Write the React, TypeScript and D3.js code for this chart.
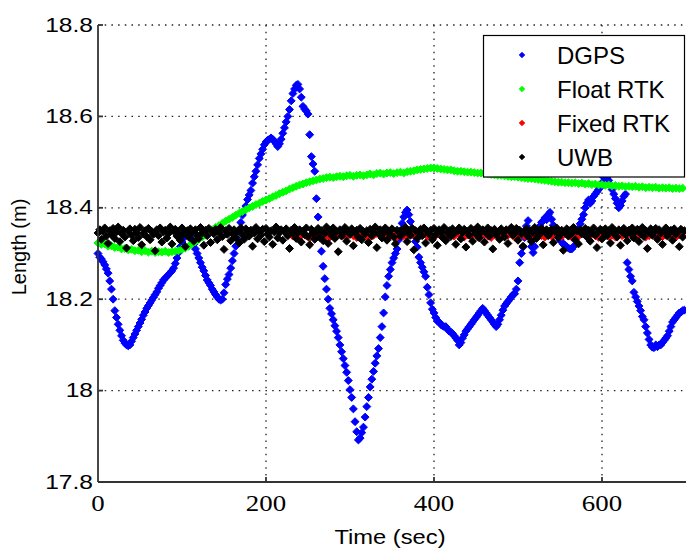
import React from "react";
import * as d3 from "d3";

// ---- data ----
const xTicks = [0, 200, 400, 600];
const yTicks = [17.8, 18, 18.2, 18.4, 18.6, 18.8];
const yTickLabels = ["17.8", "18", "18.2", "18.4", "18.6", "18.8"];
const seriesNames = ["DGPS", "Float RTK", "Fixed RTK", "UWB"];
const seriesColors = ["#0000ff", "#00ff00", "#ff0000", "#000000"];

// DGPS, one value every 2 s from t = 0
const dgpsValues = [
  18.300, 18.292, 18.288, 18.282, 18.275, 18.266, 18.257, 18.240, 18.222, 18.200,
  18.175, 18.160, 18.145, 18.132, 18.120, 18.110, 18.104, 18.100, 18.098, 18.100,
  18.108, 18.116, 18.124, 18.132, 18.140, 18.148, 18.156, 18.165, 18.172, 18.180,
  18.186, 18.192, 18.198, 18.204, 18.210, 18.216, 18.224, 18.230, 18.236, 18.242,
  18.246, 18.250, 18.254, 18.258, 18.262, 18.268, 18.278, 18.290, 18.302, 18.315,
  18.325, 18.334, 18.340, 18.345, 18.342, 18.336, 18.330, 18.320, 18.310, 18.300,
  18.290, 18.280, 18.270, 18.262, 18.252, 18.242, 18.236, 18.230, 18.222, 18.216,
  18.210, 18.205, 18.200, 18.198, 18.200, 18.214, 18.232, 18.244, 18.254, 18.268,
  18.284, 18.300, 18.316, 18.332, 18.350, 18.368, 18.384, 18.394, 18.404, 18.418,
  18.428, 18.438, 18.454, 18.468, 18.480, 18.494, 18.508, 18.518, 18.528, 18.538,
  18.544, 18.548, 18.550, 18.553, 18.550, 18.545, 18.540, 18.534, 18.540, 18.550,
  18.563, 18.575, 18.588, 18.600, 18.615, 18.634, 18.650, 18.660, 18.668, 18.670,
  18.660, 18.642, 18.622, 18.616, 18.612, 18.605, 18.560, 18.512, 18.496, 18.480,
  18.420, 18.380, 18.342, 18.305, 18.272, 18.245, 18.222, 18.200, 18.180, 18.168,
  18.155, 18.142, 18.130, 18.116, 18.100, 18.085, 18.070, 18.055, 18.040, 18.022,
  18.002, 17.985, 17.960, 17.932, 17.910, 17.892, 17.896, 17.908, 17.920, 17.942,
  17.965, 17.985, 18.008, 18.025, 18.042, 18.060, 18.076, 18.092, 18.116, 18.140,
  18.170, 18.205, 18.230, 18.250, 18.265, 18.280, 18.290, 18.300, 18.310, 18.330,
  18.350, 18.366, 18.380, 18.390, 18.395, 18.385, 18.370, 18.355, 18.340, 18.326,
  18.314, 18.292, 18.280, 18.270, 18.260, 18.250, 18.226, 18.210, 18.192, 18.178,
  18.170, 18.160, 18.152, 18.150, 18.145, 18.142, 18.140, 18.140, 18.135, 18.130,
  18.128, 18.125, 18.120, 18.115, 18.110, 18.100, 18.105, 18.115, 18.122, 18.130,
  18.135, 18.140, 18.145, 18.150, 18.155, 18.160, 18.165, 18.170, 18.175, 18.180,
  18.175, 18.170, 18.165, 18.160, 18.155, 18.150, 18.145, 18.140, 18.145, 18.155,
  18.165, 18.176, 18.185, 18.190, 18.195, 18.200, 18.205, 18.210, 18.212, 18.222,
  18.240, 18.280, 18.300, 18.314, 18.335, 18.360, 18.372, 18.340, 18.315, 18.302,
  18.315, 18.335, 18.350, 18.360, 18.368, 18.372, 18.378, 18.374, 18.385, 18.390,
  18.375, 18.362, 18.350, 18.340, 18.335, 18.330, 18.325, 18.320, 18.318, 18.315,
  18.312, 18.310, 18.310, 18.315, 18.330, 18.345, 18.355, 18.365, 18.375, 18.385,
  18.400, 18.410, 18.417, 18.410, 18.415, 18.425, 18.430, 18.435, 18.440, 18.445,
  18.455, 18.467, 18.470, 18.465, 18.460, 18.450, 18.440, 18.430, 18.420, 18.410,
  18.400, 18.405, 18.415, 18.425, 18.430, 18.280, 18.265, 18.250, 18.240, 18.215,
  18.205, 18.195, 18.185, 18.175, 18.162, 18.155, 18.140, 18.126, 18.112, 18.100,
  18.095, 18.094, 18.100, 18.096, 18.100, 18.100, 18.105, 18.110, 18.115, 18.120,
  18.130, 18.140, 18.150, 18.155, 18.160, 18.165, 18.170, 18.172, 18.175, 18.176,
];

// Float RTK, one value every 4 s from t = 0
const floatValues = [
  18.323, 18.320, 18.321, 18.316, 18.317, 18.313, 18.314, 18.310, 18.311, 18.308,
  18.309, 18.306, 18.307, 18.304, 18.306, 18.303, 18.305, 18.302, 18.304, 18.303,
  18.305, 18.302, 18.304, 18.305, 18.306, 18.309, 18.312, 18.316, 18.321, 18.326,
  18.331, 18.336, 18.341, 18.347, 18.352, 18.357, 18.361, 18.366, 18.371, 18.375,
  18.379, 18.384, 18.388, 18.392, 18.396, 18.400, 18.403, 18.407, 18.410, 18.414,
  18.417, 18.420, 18.424, 18.427, 18.431, 18.434, 18.437, 18.441, 18.444, 18.447,
  18.450, 18.452, 18.455, 18.457, 18.459, 18.461, 18.463, 18.464, 18.466, 18.467,
  18.466, 18.468, 18.469, 18.468, 18.470, 18.471, 18.469, 18.471, 18.472, 18.470,
  18.472, 18.474, 18.472, 18.475, 18.476, 18.474, 18.476, 18.477, 18.475, 18.477,
  18.478, 18.476, 18.479, 18.480, 18.481, 18.483, 18.484, 18.485, 18.486, 18.487,
  18.487, 18.486, 18.485, 18.484, 18.483, 18.483, 18.481, 18.480, 18.480, 18.479,
  18.478, 18.478, 18.477, 18.476, 18.476, 18.475, 18.474, 18.473, 18.472, 18.471,
  18.471, 18.470, 18.469, 18.468, 18.468, 18.467, 18.466, 18.465, 18.464, 18.464,
  18.463, 18.462, 18.461, 18.460, 18.459, 18.458, 18.457, 18.456, 18.456, 18.455,
  18.455, 18.454, 18.455, 18.453, 18.454, 18.452, 18.453, 18.451, 18.452, 18.450,
  18.451, 18.449, 18.450, 18.448, 18.449, 18.447, 18.448, 18.446, 18.447, 18.446,
  18.447, 18.445, 18.446, 18.444, 18.445, 18.444, 18.445, 18.443, 18.444, 18.443,
  18.444, 18.442, 18.443, 18.442, 18.443,
];

// Fixed RTK, one value every 4 s from t = 232
const fixedValues = [
  18.338, 18.341, 18.336, 18.343, 18.339, 18.335, 18.342, 18.340, 18.337, 18.344,
  18.339, 18.336, 18.341, 18.338, 18.345, 18.340, 18.337, 18.342, 18.339, 18.335,
  18.341, 18.343, 18.338, 18.336, 18.340, 18.344, 18.339, 18.337, 18.342, 18.338,
  18.341, 18.336, 18.343, 18.339, 18.337, 18.342, 18.340, 18.335, 18.341, 18.344,
  18.338, 18.340, 18.336, 18.343, 18.339, 18.341, 18.337, 18.342, 18.338, 18.345,
  18.340, 18.336, 18.341, 18.339, 18.343, 18.337, 18.340, 18.342, 18.338, 18.335,
  18.341, 18.339, 18.344, 18.337, 18.340, 18.342, 18.336, 18.339, 18.343, 18.338,
  18.341, 18.337, 18.340, 18.344, 18.339, 18.336, 18.342, 18.338, 18.341, 18.340,
  18.337, 18.343, 18.339, 18.336, 18.341, 18.338, 18.344, 18.340, 18.337, 18.342,
  18.339, 18.335, 18.341, 18.343, 18.338, 18.340, 18.336, 18.342, 18.339, 18.341,
  18.344, 18.338, 18.337, 18.340, 18.342, 18.336, 18.339, 18.343, 18.338, 18.341,
  18.337, 18.340, 18.342, 18.339, 18.336, 18.341, 18.338,
];

// UWB, one value every 2 s from t = 0
const uwbValues = [
  18.345, 18.352, 18.331, 18.348, 18.356, 18.338, 18.322, 18.350, 18.341, 18.355,
  18.333, 18.347, 18.358, 18.326, 18.344, 18.351, 18.336, 18.312, 18.349, 18.354,
  18.340, 18.328, 18.353, 18.346, 18.335, 18.357, 18.319, 18.343, 18.350, 18.337,
  18.355, 18.330, 18.348, 18.342, 18.306, 18.352, 18.339, 18.356, 18.325, 18.347,
  18.351, 18.334, 18.344, 18.358, 18.321, 18.349, 18.353, 18.338, 18.345, 18.329,
  18.356, 18.342, 18.315, 18.350, 18.336, 18.354, 18.347, 18.327, 18.352, 18.340,
  18.333, 18.357, 18.345, 18.318, 18.351, 18.339, 18.355, 18.324, 18.348, 18.343,
  18.353, 18.330, 18.346, 18.357, 18.337, 18.309, 18.350, 18.342, 18.355, 18.328,
  18.344, 18.352, 18.335, 18.348, 18.323, 18.356, 18.341, 18.331, 18.354, 18.347,
  18.338, 18.351, 18.316, 18.345, 18.357, 18.332, 18.349, 18.340, 18.353, 18.326,
  18.355, 18.343, 18.336, 18.350, 18.320, 18.347, 18.358, 18.334, 18.345, 18.352,
  18.329, 18.348, 18.354, 18.339, 18.311, 18.351, 18.344, 18.357, 18.333, 18.346,
  18.352, 18.325, 18.349, 18.341, 18.356, 18.337, 18.319, 18.353, 18.345, 18.331,
  18.347, 18.355, 18.335, 18.350, 18.328, 18.344, 18.358, 18.322, 18.351, 18.340,
  18.356, 18.333, 18.348, 18.304, 18.352, 18.338, 18.345, 18.357, 18.327, 18.349,
  18.342, 18.354, 18.317, 18.346, 18.351, 18.336, 18.355, 18.330, 18.348, 18.343,
  18.350, 18.324, 18.353, 18.339, 18.347, 18.358, 18.313, 18.344, 18.352, 18.334,
  18.345, 18.356, 18.329, 18.349, 18.341, 18.354, 18.336, 18.321, 18.351, 18.347,
  18.338, 18.352, 18.345, 18.357, 18.326, 18.348, 18.340, 18.355, 18.308, 18.350,
  18.333, 18.346, 18.353, 18.339, 18.356, 18.323, 18.349, 18.343, 18.351, 18.330,
  18.355, 18.341, 18.318, 18.352, 18.347, 18.335, 18.357, 18.328, 18.345, 18.350,
  18.337, 18.354, 18.344, 18.320, 18.349, 18.356, 18.332, 18.346, 18.353, 18.314,
  18.348, 18.340, 18.355, 18.327, 18.351, 18.343, 18.358, 18.334, 18.347, 18.352,
  18.325, 18.345, 18.356, 18.338, 18.350, 18.310, 18.353, 18.341, 18.347, 18.331,
  18.354, 18.346, 18.336, 18.352, 18.322, 18.349, 18.357, 18.340, 18.344, 18.355,
  18.329, 18.351, 18.343, 18.316, 18.348, 18.354, 18.337, 18.350, 18.326, 18.346,
  18.357, 18.333, 18.349, 18.342, 18.355, 18.319, 18.347, 18.352, 18.339, 18.345,
  18.353, 18.324, 18.348, 18.356, 18.335, 18.341, 18.351, 18.307, 18.346, 18.354,
  18.338, 18.350, 18.344, 18.357, 18.330, 18.349, 18.321, 18.352, 18.343, 18.347,
  18.355, 18.336, 18.351, 18.327, 18.345, 18.356, 18.340, 18.313, 18.348, 18.353,
  18.332, 18.346, 18.354, 18.339, 18.350, 18.323, 18.357, 18.344, 18.349, 18.336,
  18.352, 18.318, 18.347, 18.355, 18.341, 18.328, 18.351, 18.345, 18.356, 18.334,
  18.349, 18.353, 18.326, 18.343, 18.357, 18.337, 18.350, 18.311, 18.346, 18.354,
  18.340, 18.348, 18.355, 18.331, 18.352, 18.344, 18.320, 18.349, 18.356, 18.338,
  18.345, 18.351, 18.329, 18.354, 18.342, 18.347, 18.315, 18.353, 18.336, 18.350,
];

const dgpsTimes = dgpsValues.map((_, i) => i * 2);
const floatTimes = floatValues.map((_, i) => i * 4);
const fixedTimes = fixedValues.map((_, i) => 232 + i * 4);
const uwbTimes = uwbValues.map((_, i) => i * 2);

const W = 686;
const H = 550;
const M = { left: 98, right: 686, top: 25, bottom: 482 };

export default function App() {
  const x = d3.scaleLinear().domain([0, 700]).range([M.left, M.right]);
  const y = d3.scaleLinear().domain([17.8, 18.8]).range([M.bottom, M.top]);
  const marker = d3.symbol().type(d3.symbolDiamond2).size(40)() as string;
  const legendMarker = d3.symbol().type(d3.symbolDiamond2).size(20)() as string;

  const series = [
    { t: dgpsTimes, v: dgpsValues, c: seriesColors[0] },
    { t: floatTimes, v: floatValues, c: seriesColors[1] },
    { t: fixedTimes, v: fixedValues, c: seriesColors[2] },
    { t: uwbTimes, v: uwbValues, c: seriesColors[3] },
  ];

  const sans = "'Liberation Sans', Arial, Helvetica, sans-serif";
  const serif = "'Liberation Serif', 'Times New Roman', serif";

  return (
    <svg
      width={W}
      height={H}
      style={{ position: "absolute", left: 0, top: 0, background: "#fff" }}
    >
      <rect x={0} y={0} width={W} height={H} fill="#fff" />
      {/* grid */}
      <g stroke="#222" strokeWidth={1.3} strokeDasharray="1.5,5.2">
        {yTicks.slice(1).map((v) => (
          <line key={"gy" + v} x1={M.left} x2={M.right} y1={y(v)} y2={y(v)} />
        ))}
        {xTicks.slice(1).map((t) => (
          <line key={"gx" + t} x1={x(t)} x2={x(t)} y1={M.top} y2={M.bottom} />
        ))}
      </g>
      {/* data */}
      {series.map((s, si) => (
        <g key={"s" + si} fill={s.c} stroke={s.c} strokeWidth={1}>
          {s.v.map((v, i) => (
            <path key={i} d={marker} transform={`translate(${x(s.t[i])},${y(v)})`} />
          ))}
        </g>
      ))}
      {/* axes */}
      <g stroke="#333" strokeWidth={1.8}>
        <line x1={M.left} x2={M.left} y1={M.top} y2={M.bottom} />
        <line x1={M.left} x2={M.right} y1={M.bottom} y2={M.bottom} />
        {xTicks.slice(1).map((t) => (
          <line key={"tx" + t} x1={x(t)} x2={x(t)} y1={M.bottom} y2={M.bottom - 5} />
        ))}
        {yTicks.map((v) => (
          <line key={"ty" + v} x1={M.left} x2={M.left + 5} y1={y(v)} y2={y(v)} />
        ))}
      </g>
      {/* tick labels */}
      <g fontFamily={sans} fontSize={21} fill="#000" textAnchor="end">
        {yTicks.map((v, i) => (
          <text key={"ly" + v} transform={`translate(93,${y(v) + 6.5}) scale(1.17,1)`}>
            {yTickLabels[i]}
          </text>
        ))}
      </g>
      <g fontFamily={serif} fontSize={24} fill="#000" textAnchor="middle">
        {xTicks.map((t) => (
          <text key={"lx" + t} transform={`translate(${x(t)},511) scale(1.12,1)`}>
            {String(t)}
          </text>
        ))}
      </g>
      {/* axis titles */}
      <text
        fontFamily={sans}
        fontSize={21}
        textAnchor="middle"
        transform={`translate(390,544) scale(1.13,1)`}
      >
        Time (sec)
      </text>
      <text
        fontFamily={sans}
        fontSize={20}
        textAnchor="middle"
        transform={`translate(26,247) rotate(-90)`}
      >
        Length (m)
      </text>
      {/* legend */}
      <rect x={483.5} y={35.5} width={201} height={141.5} fill="#fff" stroke="#000" strokeWidth={1.2} />
      {seriesNames.map((name, i) => (
        <g key={"lg" + i}>
          <path
            d={legendMarker}
            transform={`translate(522,${55 + i * 34})`}
            fill={seriesColors[i]}
            stroke={seriesColors[i]}
            strokeWidth={0.8}
          />
          <text x={557} y={64 + i * 34} fontFamily={sans} fontSize={24} fill="#000">
            {name}
          </text>
        </g>
      ))}
    </svg>
  );
}
